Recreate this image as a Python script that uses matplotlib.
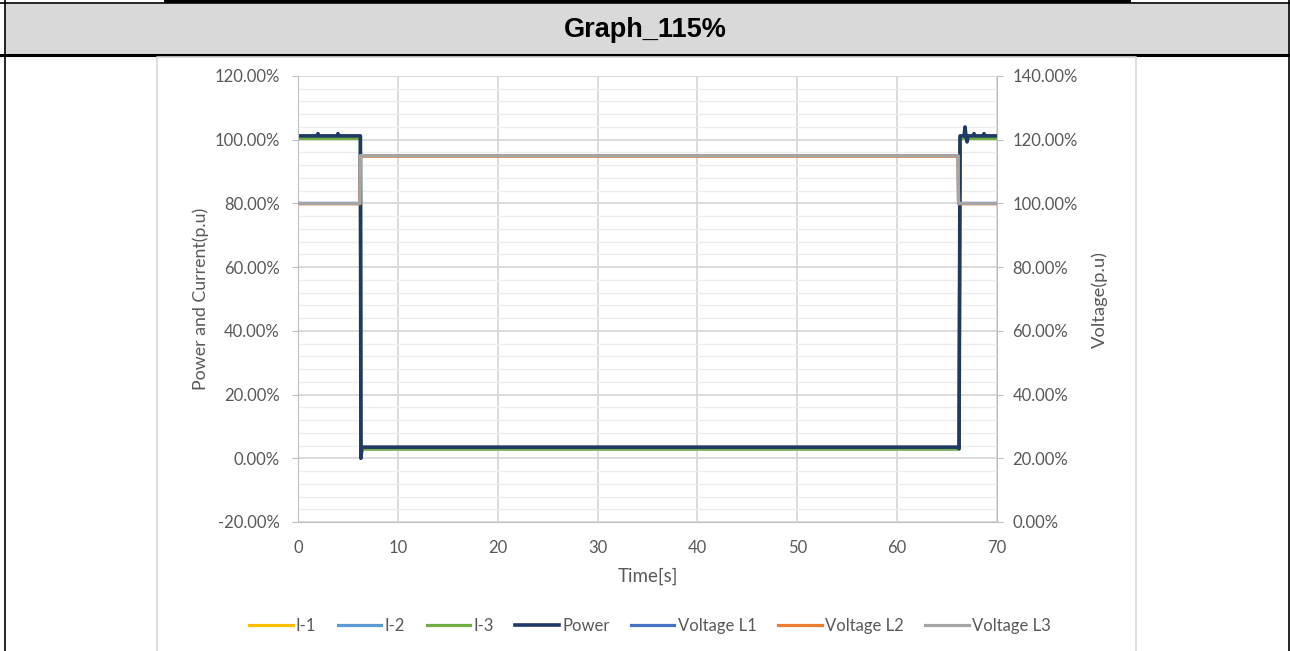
import matplotlib
matplotlib.use("Agg")
import matplotlib.pyplot as plt
from matplotlib.patches import Rectangle
from matplotlib.lines import Line2D
from matplotlib.ticker import MultipleLocator, FuncFormatter

# ---------------- data ----------------
title = "Graph_115%"
series_names = ["I-1", "I-2", "I-3", "Power", "Voltage L1", "Voltage L2", "Voltage L3"]
series_colors = ["#FFC000", "#5B9BD5", "#70AD47", "#203864", "#4472C4", "#ED7D31", "#A5A5A5"]

# currents / power (left axis, %)
cur_t = [0, 6.25, 6.3, 6.4, 66.1, 66.2, 66.3, 70]
i1_v = [100.6, 100.6, 0.5, 3.0, 3.0, 3.0, 100.6, 100.6]
i2_v = [100.6, 100.6, 0.5, 3.0, 3.0, 3.0, 100.6, 100.6]
i3_v = [100.4, 100.4, 0.5, 2.9, 2.9, 2.9, 100.4, 100.4]

power_t = [0, 1.9, 2.0, 2.1, 3.9, 4.0, 4.1, 6.25, 6.3, 6.4, 66.1, 66.2, 66.3,
           66.7, 66.8, 66.9, 67.0, 67.1, 67.6, 67.7, 67.8, 68.6, 68.7, 68.8, 70]
power_v = [101.2, 101.2, 101.9, 101.2, 101.2, 101.9, 101.2, 101.2, 0.0, 3.5, 3.5, 3.0, 101.2,
           101.2, 104.0, 101.0, 99.3, 101.2, 101.2, 101.9, 101.2, 101.2, 101.9, 101.2, 101.2]

# voltages (right axis, %)
volt_t = [0, 6.2, 6.25, 66.1, 66.15, 70]
v1_v = [100.0, 100.0, 115.0, 115.0, 100.0, 100.0]
v2_v = [99.9, 99.9, 114.85, 114.85, 99.9, 99.9]
v3_v = [100.0, 100.0, 115.0, 115.0, 100.0, 100.0]

x_label = "Time[s]"
y_label = "Power and Current(p.u)"
y2_label = "Voltage(p.u)"

# ---------------- figure ----------------
W, H = 1290, 651
fig = plt.figure(figsize=(W / 100, H / 100), dpi=100)
fig.patch.set_facecolor("white")

def fx(px):
    return px / W

def fy(py):
    return 1 - py / H

# header band
fig.patches.append(Rectangle((fx(5), fy(54)), fx(1289) - fx(5), fy(4) - fy(54),
                             transform=fig.transFigure, facecolor="#D9D9D9",
                             edgecolor="none", zorder=0))
# top strip of previous table row
fig.patches.append(Rectangle((fx(164), fy(3)), fx(1131) - fx(164), fy(0) - fy(3),
                             transform=fig.transFigure, facecolor="black",
                             edgecolor="none", zorder=1))
fig.lines.append(Line2D([fx(0), fx(1290)], [fy(3), fy(3)], transform=fig.transFigure,
                        color="black", lw=1.2))
fig.lines.append(Line2D([fx(0), fx(1290)], [fy(54.5), fy(54.5)], transform=fig.transFigure,
                        color="black", lw=2.2))
fig.lines.append(Line2D([fx(5), fx(5)], [fy(0), fy(651)], transform=fig.transFigure,
                        color="black", lw=1.2))
fig.lines.append(Line2D([fx(1288.5), fx(1288.5)], [fy(0), fy(651)], transform=fig.transFigure,
                        color="black", lw=1.2))
# chart frame
fig.lines.append(Line2D([fx(157), fx(157), fx(1136), fx(1136)],
                        [fy(651), fy(57), fy(57), fy(651)], transform=fig.transFigure,
                        color="#D9D9D9", lw=1.2))

fig.text(0.5, fy(30), title, ha="center", va="center", fontsize=19.5,
         fontweight="bold", family="Liberation Sans", color="black")

# axes
left, right, top, bottom = 298, 997, 76, 522
ax = fig.add_axes([fx(left), fy(bottom), fx(right) - fx(left), fy(top) - fy(bottom)])
ax2 = ax.twinx()

font = "Lato"
tick_color = "#595959"

ax.set_xlim(0, 70)
ax.set_ylim(-20, 120)
ax2.set_ylim(0, 140)

ax.xaxis.set_major_locator(MultipleLocator(10))
ax.yaxis.set_major_locator(MultipleLocator(20))
ax.yaxis.set_minor_locator(MultipleLocator(4))
ax2.yaxis.set_major_locator(MultipleLocator(20))

pct = FuncFormatter(lambda v, p: f"{v:.2f}%")
ax.yaxis.set_major_formatter(pct)
ax2.yaxis.set_major_formatter(pct)

ax.grid(which="major", axis="both", color="#D9D9D9", lw=1.3, zorder=0)
ax.grid(which="minor", axis="y", color="#EDEDED", lw=1.0, zorder=0)
ax.set_axisbelow(True)

for a in (ax, ax2):
    for s in a.spines.values():
        s.set_visible(False)
ax.spines["left"].set_visible(True)
ax.spines["left"].set_color("#BFBFBF")
ax.spines["bottom"].set_visible(True)
ax.spines["bottom"].set_color("#BFBFBF")
ax2.spines["right"].set_visible(True)
ax2.spines["right"].set_color("#BFBFBF")

ax.tick_params(axis="y", which="major", length=4, color="#BFBFBF", labelcolor=tick_color,
               labelsize=12, pad=9)
ax.tick_params(axis="y", which="minor", length=0)
ax.tick_params(axis="x", length=0, labelcolor=tick_color, labelsize=12, pad=13)
ax2.tick_params(axis="y", length=4, color="#BFBFBF", labelcolor=tick_color, labelsize=12, pad=7)
for lab in ax.get_xticklabels() + ax.get_yticklabels() + ax2.get_yticklabels():
    lab.set_fontfamily(font)

ax.set_xlabel(x_label, fontsize=13.5, color=tick_color, family=font, labelpad=8)
ax.set_ylabel(y_label, fontsize=12.8, color=tick_color, family=font, labelpad=4)
ax2.set_ylabel(y2_label, fontsize=13.2, color=tick_color, family=font, labelpad=10)

lw = 2.3
h = []
h += ax.plot(cur_t, i1_v, color=series_colors[0], lw=lw, label=series_names[0])
h += ax.plot(cur_t, i2_v, color=series_colors[1], lw=lw, label=series_names[1])
h += ax.plot(cur_t, i3_v, color=series_colors[2], lw=lw, label=series_names[2])
h += ax.plot(power_t, power_v, color=series_colors[3], lw=2.6, label=series_names[3])
h += ax2.plot(volt_t, v1_v, color=series_colors[4], lw=lw, label=series_names[4])
h += ax2.plot(volt_t, v2_v, color=series_colors[5], lw=lw, label=series_names[5])
h += ax2.plot(volt_t, v3_v, color=series_colors[6], lw=lw, label=series_names[6])

leg = fig.legend(h, series_names, loc="center", bbox_to_anchor=(fx(650), fy(626)),
                 ncol=7, frameon=False, prop={"family": font, "size": 12},
                 handlelength=2.6, handletextpad=0.2, columnspacing=1.3)
for t in leg.get_texts():
    t.set_color(tick_color)

fig.savefig("out.png", dpi=100, facecolor="white")
